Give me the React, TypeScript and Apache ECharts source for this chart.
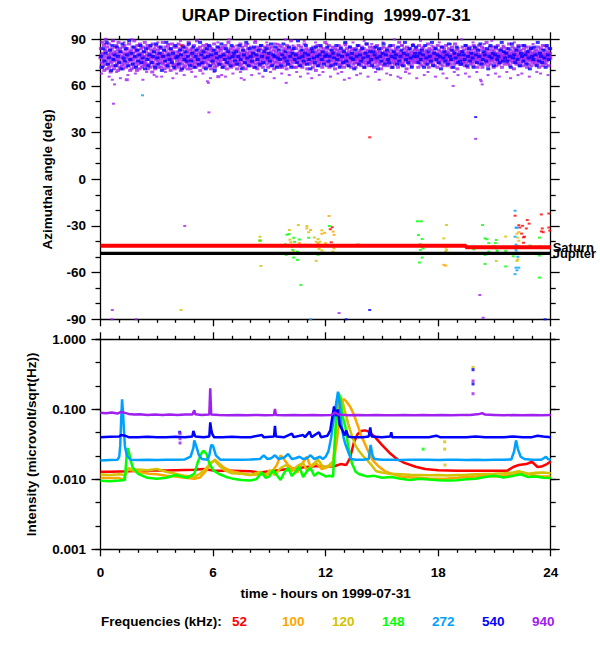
import { useEffect, useRef } from "react";
import * as echarts from "echarts";

const FREQS = ["52", "100", "120", "148", "272", "540", "940"];
const COLORS = ["#ff0000", "#ffa500", "#d2c200", "#00ff00", "#00a0ff", "#0000ff", "#a020f0"];
const X_TICKS = [0, 6, 12, 18, 24];
const TITLE = "URAP Direction Finding  1999-07-31";

// ---- top panel: azimuth (deg) ----
const SATURN = [[0, -42.7], [19.48, -42.7], [19.48, -43.7], [24, -43.7]];
const JUPITER = [[0, -47.6], [24, -47.6]];

// dense 940 kHz band, values at evenly spaced times across the day
const AZ940_BAND = [
  "78 84 72 80 75 88 81 73 77 86 70 79 83 74 90 76 82 71 85 78 74 80 87 72 79 83 76 69 81 75 84 78 73 89 80 77 71 82 76 85",
  "73 79 86 81 74 77 83 70 88 76 80 72 84 78 75 82 91 73 79 85 71 77 81 74 86 80 76 83 72 78 64 84 75 81 79 73 87 77 82 70",
  "80 76 83 71 78 85 74 81 77 72 89 79 75 84 82 73 78 70 86 80 76 83 74 79 71 87 81 77 84 75 72 80 78 85 73 82 76 79 88 74",
  "75 82 78 73 80 86 71 84 77 79 74 81 85 72 78 76 83 80 69 87 75 82 78 73 84 79 71 77 86 81 74 80 76 83 78 72 85 79 75 81",
  "84 77 72 79 81 75 88 74 80 78 83 71 76 85 79 73 82 77 80 74 86 72 78 84 75 81 79 70 83 77 76 87 73 80 82 78 74 85 71 79",
  "78 73 85 80 76 82 74 79 87 72 81 77 75 84 70 80 78 83 74 86 79 76 72 81 85 77 73 80 78 84 75 82 71 79 76 88 74 81 77 83",
  "71 80 77 84 74 79 82 76 73 86 78 81 75 83 72 80 77 89 74 79 84 76 81 73 78 85 70 82 77 75 80 83 74 79 86 72 78 81 76 84",
  "82 75 79 72 86 78 74 81 77 83 80 73 85 76 79 71 84 78 82 75 77 80 74 87 79 72 83 76 81 78 73 85 80 75 66 82 77 79 84 74",
  "76 83 80 74 78 85 72 81 79 77 84 73 80 86 75 78 82 71 79 76 83 88 74 80 77 81 75 84 72 79 78 82 76 73 85 80 74 83 77 79",
  "80 74 78 83 71 79 76 84 82 75 78 80 73 87 77 81 74 79 85 76 72 83 78 80 75 82 79 71 86 77 74 81 78 84 76 80 73 82 79 75",
  "77 85 73 80 78 82 75 79 84 72 81 76 88 74 79 83 77 80 71 85 78 75 82 79 73 84 76 80 78 86 74 81 77 72 83 79 75 80 85 78",
  "83 76 81 74 79 77 86 72 80 78 84 75 79 82 73 81 77 85 76 80 74 78 83 71 79 87 75 82 78 76 80 73 84 79 77 81 75 86 72 80",
  "74 81 78 85 72 80 77 83 75 79 82 76 73 84 78 80 71 86 79 75 81 77 84 74 78 82 76 80 89 73 79 83 77 75 81 78 85 72 80 76",
  "79 72 84 77 81 75 80 78 86 73 79 82 76 80 74 85 78 81 72 77 83 79 75 80 87 74 78 82 76 84 79 71 81 77 83 75 80 78 74 82",
  "81 78 75 83 79 76 72 85 80 77 84 74 81 78 70 82 76 79 86 73 80 77 83 75 78 81 74 85 79 76 82 72 80 78 84 77 75 81 79 88",
  "76 82 79 73 84 78 81 75 80 86 72 79 77 83 76 80 74 81 78 85 73 79 82 76 80 71 84 78 75 81 77 83 79 74 80 86 76 82 78 73",
  "85 77 80 74 79 82 76 78 83 72 80 75 87 79 77 81 74 84 78 76 80 73 82 79 75 85 78 81 72 77 83 80 76 79 74 84 78 81 77 75",
  "72 80 84 78 75 81 77 79 86 74 82 78 76 80 83 73 79 85 77 81 75 78 84 72 80 76 82 79 74 87 78 81 75 83 77 80 73 79 85 76",
  "79 83 76 81 74 78 85 80 77 72 84 79 75 82 78 80 76 86 73 81 77 79 83 75 78 82 74 80 71 84 79 76 81 78 85 73 80 77 82 75",
  "81 75 79 84 77 73 80 82 76 78 85 74 79 81 77 83 72 80 78 75 86 79 82 76 74 81 78 84 77 80 75 83 79 72 81 76 88 78 74 80",
  "77 82 74 80 86 78 75 81 79 73 84 77 80 76 82 78 71 85 79 75 83 77 81 74 80 78 84 76 79 82 73 80 77 86 75 81 78 79 83 76",
  "84 78 81 75 79 77 83 72 80 86 76 79 82 74 78 81 77 84 73 80 76 85 79 78 82 75 80 77 74 83 79 81 76 87 78 72 80 84 77 79",
  "75 80 78 83 76 81 74 79 85 77 82 73 80 78 84 76 79 81 72 86 78 75 83 80 77 79 74 82 78 85 76 81 73 80 79 77 84 75 82 78",
  "80 86 77 79 73 82 78 75 81 84 76 80 74 79 83 77 72 85 80 78 76 82 79 74 81 87 77 80 75 83 78 71 84 79 76 81 78 74 82 80",
  "78 74 82 80 77 85 75 79 83 76 81 73 78 86 79 75 80 84 77 72 82 79 76 81 78 85 74 80 77 83 79 75 81 78 73 86 80 77 84 76",
  "82 79 75 84 78 72 81 77 80 86 74 79 83 76 80 78 75 85 72 81 79 77 84 74 80 78 82 76 79 88 75 81 77 73 83 80 76 79 85 78",
  "74 81 78 76 83 80 77 85 72 79 82 75 80 78 84 73 81 77 79 86 76 80 74 83 78 81 75 79 77 84 72 80 78 82 76 85 79 74 81 77",
  "79 76 84 81 75 78 82 74 80 87 77 79 73 83 80 76 81 78 85 75 79 82 71 80 77 84 76 81 78 74 83 79 80 75 86 78 77 82 73 80",
  "83 78 75 80 79 86 73 81 77 84 76 80 78 82 75 79 85 72 81 77 80 74 83 79 76 82 78 85 73 80 77 81 75 84 79 78 76 82 80 74",
  "76 80 83 77 81 74 79 85 78 72 82 76 80 79 84 75 81 77 73 86 79 80 78 75 83 77 81 74 79 85 76 80 78 82 77 73 84 79 81 78",
];
const AZ940_EDGE = [
  "68 87 66 89 69 65 88 67 90 68 86 64 69 91 67 88 66 69 87 65 68 89 67 86 69 66 92 68 87 65 69 88 67 66 90 68 86 69 64 87",
  "67 89 68 66 88 69 65 87 68 90 67 86 69 66 89 68 65 88 67 69 87 66 91 68 69 86 65 88 67 68 89 66 87 69 64 88 68 67 90 66",
  "86 69 68 87 65 89 67 69 86 66 88 68 65 87 69 67 90 68 66 88 69 64 87 67 89 68 66 86 69 65 88 67 68 91 66 87 69 68 86 67",
];
const AZ540_BAND = [
  "79 72 84 76 81 88 74 78 83 70 86 77 80 73 85 79 75 82 71 87 78 76 84 80 73 89 77 81 74 85 79 72 83 76 80 86 75 78 82 71",
  "84 77 73 80 86 75 79 82 72 87 78 74 81 85 70 79 83 76 88 73 80 77 84 75 81 72 86 78 79 74 83 80 71 85 77 82 76 79 87 73",
  "76 81 85 72 79 83 77 74 88 80 75 82 78 71 84 79 86 73 80 76 83 70 81 78 85 74 79 87 72 80 77 84 75 82 78 73 86 79 81 76",
  "82 74 79 86 77 71 83 80 75 88 78 73 84 79 76 81 85 72 80 77 83 74 86 79 75 82 70 84 78 81 76 87 73 80 79 85 72 78 83 77",
  "73 80 87 78 82 76 74 85 79 72 81 84 77 80 75 89 78 73 83 79 76 81 86 74 80 77 71 84 82 78 75 85 79 73 80 86 77 82 74 79",
  "80 85 76 79 73 83 81 78 74 86 77 80 72 84 79 75 82 88 76 80 73 85 78 81 77 71 83 79 86 74 80 76 84 78 72 81 87 79 75 82",
  "77 73 82 80 85 78 71 84 79 76 81 87 74 80 83 77 75 86 79 72 82 78 80 74 85 76 79 83 73 81 88 77 80 75 84 78 72 86 79 81",
  "85 79 75 81 77 83 80 72 86 78 74 82 79 76 88 73 81 84 77 80 75 79 71 85 78 82 76 80 74 87 79 77 83 72 81 78 85 75 80 76",
  "74 82 80 77 86 73 79 84 76 81 78 72 85 80 75 83 79 87 74 77 82 80 76 84 71 79 86 78 81 73 80 85 77 79 75 83 88 76 82 78",
  "81 76 84 79 72 87 78 80 75 83 77 85 73 81 79 76 86 80 74 82 78 71 84 79 77 85 80 73 88 76 81 79 75 83 78 72 86 80 77 84",
];

// isolated azimuth points [hour, deg]
const AZ52_PTS = [[22.1, -23.4], [22.3, -29.5], [22.35, -31], [22.45, -34.9], [22.55, -40.8], [22.5, -29.9], [22.7, -31.6], [22.6, -36.9], [22.55, -37.3], [22.75, -26.2], [22.85, -28.5], [23.5, -22.6], [23.55, -31.6], [23.5, -33.5], [23.6, -34], [23.9, -22], [23.9, -31], [23.95, -33], [12.25, -32.1], [12.35, -30.8], [12.3, -40.5], [14.35, 27], [4.3, 86]];
const AZ100_PTS = [[8.52, -39.4], [11.0, -31.5], [11.2, -32.6], [11.8, -35], [11.95, -34.4], [11.8, -42.2], [11.9, -42.2], [12.18, -23.6], [12.4, -33.6], [12.45, -35.7], [12.4, -43.3], [12.45, -44.4], [18.4, -55.5], [18.3, -55], [22.3, -34], [10.6, -41], [11.6, -41]];
const AZ120_PTS = [[8.5, -36.9], [8.55, -42], [8.55, -55.7], [8.5, -39.4], [10.07, -32.6], [10.1, -38.8], [10.15, -40.5], [10.2, -43.3], [10.3, -46.5], [10.55, -29.4], [11.1, -34], [11.4, -37.4], [11.6, -38.4], [11.5, -40.1], [11.7, -40.1], [11.8, -32.8], [11.5, -43.3], [11.65, -44.8], [11.8, -45.8], [11.9, -47.1], [11.5, -52.4], [12.4, -46.5], [13.74, -41.8], [18.45, -29.4], [18.3, -38], [18.4, -42.5], [18.42, -44], [18.45, -45.5], [18.4, -46.5], [21.1, -52.5], [21.6, -36.8], [22.2, -35], [22.25, -37.5], [22.3, -39.5], [22.2, -52.5], [22.25, -51.5], [11.0, -30], [10.9, -42], [12.0, -41], [4.29, -84]];
const AZ148_PTS = [[8.5, -39.4], [9.94, -35.6], [10.05, -35.2], [9.86, -41.8], [10.3, -37.6], [10.35, -40.2], [10.25, -45.4], [10.5, -46.5], [9.9, -48.6], [10.3, -50.3], [10.5, -51.8], [10.6, -38.7], [10.65, -43.2], [11.1, -37.6], [11.6, -48.6], [12.2, -30], [10.68, -67.9], [16.9, -27], [17.1, -27], [16.95, -35.8], [17.15, -38.4], [17.05, -41.8], [17.1, -43.3], [17.2, -44.4], [17.05, -45.4], [17.15, -50.3], [17.0, -53.5], [20.37, -29.4], [20.5, -38], [20.6, -38.5], [20.7, -41], [21.05, -41], [21.1, -39], [21.0, -43], [21.1, -44.5], [21.15, -46], [19.9, -45], [20.7, -46.5], [20.5, -48.6], [20.5, -54.4], [21.6, -56], [21.6, -46], [23.4, -37.5], [23.45, -43.2], [23.4, -49], [23.4, -63.2], [22.9, -42.6], [22.0, -49.5], [22.05, -48]];
const AZ272_PTS = [[22.1, -20.2], [22.15, -31.1], [22.2, -31.1], [22.1, -36.9], [22.15, -42], [22.2, -44], [22.15, -45.5], [22.2, -47], [22.25, -49.8], [22.15, -56.8], [22.3, -56.8], [22.2, -58.5], [22.1, -61], [22.25, -43], [2.24, 54], [11.2, -90]];
const AZ540_PTS = [[20.0, 40], [14.35, -84], [13.1, -90], [23.7, -90]];
const AZ940_PTS = [[0.69, 48.6], [0.63, 64], [0.75, 61], [5.78, 43], [5.7, 63], [5.75, 62], [9.9, 62], [13.0, 64], [18.8, 60], [20.3, 63], [20.35, 61], [20.0, 26], [4.49, -30], [0.63, -84], [12.72, -86], [20.22, -74.4], [20.4, -89], [1.9, -90], [0.6, -90], [16, 65], [3, 66], [7.5, 65]];

// ---- bottom panel: intensity, flat [hour, value, hour, value, ...] ----
const I52 = [0, 0.0128, 0.5, 0.0128, 1.0, 0.0129, 1.5, 0.013, 2.0, 0.0133, 2.5, 0.0134, 3.0, 0.0134, 3.5, 0.0134, 4.0, 0.0135, 4.5, 0.0136, 5.0, 0.0137, 5.5, 0.014, 6.0, 0.0134, 6.5, 0.0133, 7.0, 0.0132, 7.5, 0.0131, 8.0, 0.013, 8.5, 0.0125, 9.0, 0.013, 9.5, 0.0135, 10.0, 0.014, 10.5, 0.0145, 11.0, 0.015, 11.5, 0.0155, 12.0, 0.015, 12.5, 0.0155, 12.8, 0.0165, 13.1, 0.016, 13.3, 0.02, 13.5, 0.033, 13.7, 0.044, 13.9, 0.049, 14.1, 0.05, 14.3, 0.048, 14.6, 0.041, 15.0, 0.031, 15.4, 0.024, 15.8, 0.0195, 16.2, 0.0172, 16.8, 0.0151, 17.3, 0.014, 18.0, 0.0135, 19, 0.0133, 20, 0.0132, 21, 0.0132, 21.7, 0.0133, 22.0, 0.015, 22.3, 0.016, 22.7, 0.0165, 23.0, 0.0178, 23.3, 0.015, 23.5, 0.0152, 23.8, 0.0165, 24, 0.018];
const I100 = [0, 0.0105, 0.5, 0.0104, 1.0, 0.0104, 1.2, 0.0098, 1.35, 0.012, 1.5, 0.0145, 1.8, 0.013, 2.2, 0.0125, 2.6, 0.012, 3.0, 0.0118, 3.5, 0.0112, 4.0, 0.011, 4.5, 0.0105, 5.0, 0.0102, 5.3, 0.0106, 5.6, 0.013, 5.9, 0.017, 6.1, 0.019, 6.3, 0.017, 6.6, 0.0145, 7.0, 0.013, 7.5, 0.0122, 8.0, 0.0115, 8.5, 0.0118, 9.0, 0.012, 9.2, 0.0135, 9.4, 0.016, 9.6, 0.022, 9.8, 0.019, 10.0, 0.016, 10.3, 0.014, 10.5, 0.0125, 10.7, 0.016, 11.0, 0.021, 11.2, 0.015, 11.5, 0.017, 11.8, 0.014, 12.1, 0.015, 12.4, 0.016, 12.6, 0.035, 12.8, 0.1, 12.95, 0.14, 13.1, 0.13, 13.3, 0.11, 13.5, 0.085, 13.7, 0.06, 13.9, 0.042, 14.1, 0.032, 14.3, 0.024, 14.5, 0.019, 14.8, 0.0155, 15.2, 0.0128, 15.6, 0.0118, 16, 0.011, 16.5, 0.0107, 17, 0.0105, 17.5, 0.0103, 18, 0.0102, 18.5, 0.0103, 19, 0.0105, 19.5, 0.0108, 20, 0.011, 20.5, 0.0112, 21, 0.011, 21.5, 0.0113, 22, 0.0115, 22.5, 0.0125, 23, 0.0115, 23.5, 0.011, 24, 0.011];
const I120 = [0, 0.0117, 0.5, 0.0115, 1.0, 0.0118, 1.3, 0.0115, 1.45, 0.014, 1.6, 0.0135, 2.0, 0.0138, 2.5, 0.0135, 3.0, 0.014, 3.5, 0.0128, 4.0, 0.012, 4.5, 0.0112, 5.0, 0.0108, 5.3, 0.012, 5.6, 0.014, 5.9, 0.0175, 6.1, 0.0185, 6.3, 0.016, 6.6, 0.0135, 7.0, 0.0122, 7.5, 0.012, 8.0, 0.0115, 8.5, 0.0128, 8.8, 0.011, 9.0, 0.0135, 9.3, 0.0115, 9.6, 0.0145, 9.9, 0.016, 10.2, 0.013, 10.5, 0.0155, 10.8, 0.017, 11.0, 0.0135, 11.3, 0.016, 11.6, 0.019, 11.9, 0.0145, 12.2, 0.016, 12.4, 0.018, 12.55, 0.05, 12.7, 0.12, 12.8, 0.15, 12.9, 0.13, 13.05, 0.09, 13.2, 0.063, 13.4, 0.042, 13.6, 0.03, 13.8, 0.025, 14.0, 0.0215, 14.2, 0.019, 14.4, 0.0165, 14.7, 0.013, 15.0, 0.0125, 15.4, 0.012, 16, 0.0118, 16.5, 0.0116, 17, 0.0115, 17.5, 0.0114, 18, 0.0115, 18.5, 0.0113, 19, 0.0115, 19.5, 0.0116, 20, 0.0118, 20.5, 0.0119, 21, 0.012, 21.5, 0.0122, 22, 0.0125, 22.3, 0.013, 22.8, 0.012, 23.2, 0.0124, 23.6, 0.0125, 24, 0.0122];
const I148 = [0, 0.0095, 0.5, 0.0094, 1.0, 0.0096, 1.3, 0.0098, 1.38, 0.02, 1.45, 0.028, 1.55, 0.022, 1.7, 0.015, 2.0, 0.012, 2.5, 0.0105, 3.0, 0.0102, 3.5, 0.0105, 4.0, 0.0115, 4.3, 0.011, 4.6, 0.0105, 5.0, 0.012, 5.2, 0.018, 5.4, 0.024, 5.5, 0.0256, 5.65, 0.023, 5.8, 0.017, 6.0, 0.0135, 6.3, 0.012, 6.7, 0.0108, 7.0, 0.0103, 7.5, 0.0098, 8.0, 0.0096, 8.3, 0.01, 8.6, 0.0125, 8.8, 0.0105, 9.0, 0.011, 9.2, 0.0135, 9.4, 0.0115, 9.6, 0.0098, 9.8, 0.0125, 10.0, 0.0145, 10.2, 0.0112, 10.4, 0.0128, 10.6, 0.015, 10.8, 0.0108, 11.0, 0.013, 11.2, 0.0145, 11.4, 0.0112, 11.6, 0.0125, 11.8, 0.0118, 12.0, 0.011, 12.2, 0.0112, 12.4, 0.011, 12.5, 0.04, 12.6, 0.12, 12.7, 0.17, 12.8, 0.14, 12.9, 0.08, 13.05, 0.0565, 13.2, 0.03, 13.4, 0.0169, 13.6, 0.0128, 13.8, 0.0118, 14.2, 0.011, 14.6, 0.0112, 15.0, 0.0105, 15.5, 0.0108, 16, 0.0102, 16.5, 0.0098, 17, 0.0102, 17.5, 0.0099, 18, 0.0097, 18.5, 0.0096, 19, 0.0097, 19.5, 0.01, 20, 0.0102, 20.5, 0.0108, 21, 0.0112, 21.5, 0.0106, 22, 0.0112, 22.4, 0.0118, 22.8, 0.0108, 23.2, 0.011, 23.6, 0.0105, 24, 0.0104];
const I272 = [0, 0.0185, 0.5, 0.0188, 0.9, 0.019, 1.0, 0.021, 1.05, 0.03, 1.1, 0.07, 1.15, 0.139, 1.2, 0.09, 1.25, 0.05, 1.3, 0.03, 1.4, 0.022, 1.6, 0.019, 2.0, 0.0188, 2.5, 0.019, 3.0, 0.0188, 3.5, 0.019, 4.0, 0.019, 4.5, 0.0192, 4.8, 0.021, 4.95, 0.028, 5.0, 0.036, 5.1, 0.03, 5.25, 0.022, 5.4, 0.0195, 5.7, 0.019, 5.8, 0.022, 5.9, 0.031, 6.0, 0.03, 6.15, 0.022, 6.4, 0.019, 7.0, 0.019, 7.5, 0.019, 8.0, 0.0192, 8.5, 0.0195, 8.7, 0.022, 8.9, 0.0195, 9.1, 0.02, 9.3, 0.022, 9.5, 0.0195, 9.8, 0.0205, 10.0, 0.023, 10.2, 0.0195, 10.4, 0.02, 10.6, 0.021, 10.8, 0.0195, 11.0, 0.02, 11.2, 0.022, 11.4, 0.0195, 11.7, 0.021, 11.85, 0.0195, 12.0, 0.021, 12.15, 0.025, 12.3, 0.04, 12.45, 0.08, 12.58, 0.13, 12.66, 0.179, 12.75, 0.12, 12.85, 0.06, 12.95, 0.04, 13.05, 0.032, 13.2, 0.025, 13.35, 0.0195, 13.6, 0.019, 14.0, 0.019, 14.3, 0.0195, 14.4, 0.031, 14.5, 0.022, 14.6, 0.0195, 15, 0.019, 15.5, 0.019, 16, 0.0188, 16.5, 0.019, 17, 0.019, 17.5, 0.019, 18, 0.0188, 18.5, 0.019, 19, 0.019, 19.5, 0.0188, 20, 0.019, 20.5, 0.0188, 21, 0.019, 21.5, 0.019, 21.9, 0.0192, 22.05, 0.025, 22.15, 0.036, 22.25, 0.027, 22.4, 0.021, 22.6, 0.0195, 23.0, 0.019, 23.5, 0.019, 23.75, 0.021, 23.85, 0.0195, 24, 0.019];
const I540 = [0, 0.040, 0.5, 0.0405, 1.0, 0.041, 1.1, 0.043, 1.3, 0.042, 1.5, 0.040, 2.0, 0.040, 2.5, 0.0405, 3.0, 0.040, 3.5, 0.040, 4.0, 0.0405, 4.5, 0.040, 4.9, 0.041, 4.95, 0.049, 5.05, 0.041, 5.5, 0.040, 5.8, 0.041, 5.85, 0.065, 5.9, 0.052, 5.95, 0.045, 6.05, 0.040, 6.5, 0.040, 7.0, 0.0405, 7.5, 0.040, 8.0, 0.040, 8.6, 0.043, 8.7, 0.040, 9.25, 0.041, 9.3, 0.058, 9.35, 0.041, 9.8, 0.040, 10.2, 0.045, 10.3, 0.040, 10.8, 0.043, 10.9, 0.040, 11.15, 0.048, 11.25, 0.040, 11.65, 0.047, 11.75, 0.040, 12.1, 0.042, 12.25, 0.05, 12.35, 0.075, 12.45, 0.11, 12.55, 0.08, 12.65, 0.1, 12.75, 0.06, 12.9, 0.05, 13.0, 0.042, 13.1, 0.05, 13.2, 0.041, 13.4, 0.040, 14.0, 0.040, 14.3, 0.041, 14.38, 0.055, 14.45, 0.041, 15.0, 0.040, 15.45, 0.041, 15.5, 0.047, 15.55, 0.040, 16, 0.040, 16.5, 0.040, 17, 0.040, 17.5, 0.040, 17.9, 0.042, 18.1, 0.040, 18.5, 0.040, 19, 0.040, 19.5, 0.040, 20, 0.041, 20.5, 0.040, 21, 0.040, 21.5, 0.040, 22, 0.041, 22.5, 0.040, 23, 0.040, 23.3, 0.042, 23.6, 0.041, 24, 0.040];
const I940 = [0, 0.089, 0.3, 0.088, 0.6, 0.09, 0.9, 0.087, 1.1, 0.092, 1.3, 0.089, 1.5, 0.086, 1.8, 0.084, 2.1, 0.085, 2.5, 0.083, 2.9, 0.084, 3.3, 0.083, 3.7, 0.084, 4.1, 0.083, 4.5, 0.084, 4.9, 0.084, 5.0, 0.097, 5.05, 0.085, 5.4, 0.083, 5.8, 0.084, 5.85, 0.2, 5.9, 0.084, 6.3, 0.083, 6.8, 0.082, 7.3, 0.083, 7.8, 0.082, 8.3, 0.083, 8.8, 0.082, 9.25, 0.083, 9.3, 0.101, 9.35, 0.083, 9.8, 0.082, 10.3, 0.083, 10.8, 0.082, 11.3, 0.083, 11.8, 0.082, 12.3, 0.083, 12.5, 0.09, 12.7, 0.084, 13.2, 0.082, 13.7, 0.083, 14.2, 0.082, 14.7, 0.083, 15.2, 0.082, 15.7, 0.082, 16.2, 0.083, 16.7, 0.082, 17.2, 0.083, 17.7, 0.082, 18.2, 0.083, 18.7, 0.082, 19.2, 0.083, 19.7, 0.083, 20.2, 0.086, 20.35, 0.088, 20.5, 0.084, 21.0, 0.083, 21.5, 0.082, 22.0, 0.083, 22.5, 0.082, 23.0, 0.083, 23.5, 0.082, 24, 0.083];
// isolated intensity dots [hour, value]
const DOTS120 = [[19.86, 0.398], [18.35, 0.0343], [18.35, 0.027], [18.36, 0.016]];
const DOTS148 = [[17.2, 0.027]];
const DOTS540 = [[4.22, 0.047], [19.86, 0.368], [19.86, 0.23]];
const DOTS940 = [[4.24, 0.045], [4.24, 0.038], [4.24, 0.033], [19.86, 0.254], [19.86, 0.167]];

const FONT = '"Liberation Sans", Arial, Helvetica, sans-serif';

function pairs(flat: number[]) {
  const out: number[][] = [];
  for (let i = 0; i + 1 < flat.length; i += 2) out.push([flat[i], flat[i + 1]]);
  return out;
}
function band(lines: string[], offset: number) {
  const vals = lines.join(" ").trim().split(/\s+/).map(Number);
  const n = vals.length;
  return vals.map((v, i) => [(24 * (i + offset)) / n, v]);
}

export default function App() {
  const ref = useRef<HTMLDivElement>(null);
  useEffect(() => {
    document.body.style.margin = "0";
    const chart = echarts.init(ref.current!, undefined, { renderer: "svg" });
    const black = { color: "#000", width: 1.3 };
    const lab = { color: "#000", fontFamily: FONT, fontSize: 13.5, fontWeight: "bold" as const };

    const xAxisBase = (grid: number, position: string, labels: boolean) => ({
      type: "value",
      gridIndex: grid,
      position,
      min: X_TICKS[0],
      max: X_TICKS[X_TICKS.length - 1],
      interval: 6,
      axisLine: { show: true, onZero: false, lineStyle: black },
      axisTick: { show: true, length: 7, lineStyle: black },
      minorTick: { show: true, splitNumber: 6, length: 3.5, lineStyle: black },
      splitLine: { show: false },
      axisLabel: labels ? { show: true, margin: 16, ...lab } : { show: false },
    });

    const topY = (position: string, labels: boolean) => ({
      type: "value",
      gridIndex: 0,
      position,
      min: -90,
      max: 90,
      interval: 30,
      axisLine: { show: true, onZero: false, lineStyle: black },
      axisTick: { show: true, length: 9, lineStyle: black },
      minorTick: { show: true, splitNumber: 3, length: 5, lineStyle: black },
      splitLine: { show: false },
      axisLabel: labels ? { show: true, margin: 14.5, ...lab } : { show: false },
      ...(labels
        ? { name: "Azimuthal angle (deg)", nameLocation: "middle", nameGap: 46, nameRotate: 90, nameTextStyle: lab }
        : {}),
    });

    const logY = (position: string, labels: boolean) => ({
      type: "log",
      logBase: 10,
      gridIndex: 1,
      position,
      min: 0.001,
      max: 1,
      axisLine: { show: true, onZero: false, lineStyle: black },
      axisTick: { show: true, length: 9, lineStyle: black },
      splitLine: { show: false },
      axisLabel: labels
        ? { show: true, margin: 14.5, formatter: (v: number) => Number(v).toFixed(3), ...lab }
        : { show: false },
      ...(labels
        ? { name: "Intensity (microvolt/sqrt(Hz))", nameLocation: "middle", nameGap: 62, nameRotate: 90, nameTextStyle: lab }
        : {}),
    });

    const minorLogY = (position: string) => ({
      type: "value",
      gridIndex: 1,
      position,
      min: -3,
      max: 0,
      interval: 1 / 3,
      axisLine: { show: false, onZero: false },
      axisTick: { show: true, length: 5, lineStyle: black },
      splitLine: { show: false },
      axisLabel: { show: false },
    });

    const scatterTop = (data: number[][], color: string, size: number[] = [3, 2]) => ({
      type: "scatter",
      xAxisIndex: 0,
      yAxisIndex: 0,
      data,
      symbol: "rect",
      symbolSize: size,
      itemStyle: { color },
      silent: true,
    });

    const lineBottom = (flat: number[], color: string) => ({
      type: "line",
      xAxisIndex: 2,
      yAxisIndex: 2,
      data: pairs(flat),
      showSymbol: false,
      symbol: "none",
      lineStyle: { color, width: 2.5 },
      silent: true,
    });
    const dotsBottom = (data: number[][], color: string) => ({
      type: "scatter",
      xAxisIndex: 2,
      yAxisIndex: 2,
      data,
      symbol: "rect",
      symbolSize: [3, 3],
      itemStyle: { color },
      silent: true,
    });

    const azPts = [AZ52_PTS, AZ100_PTS, AZ120_PTS, AZ148_PTS, AZ272_PTS, AZ540_PTS, AZ940_PTS];
    const intens = [I52, I100, I120, I148, I272, I540, I940];

    const series: any[] = [
      {
        type: "line",
        xAxisIndex: 0,
        yAxisIndex: 0,
        data: SATURN,
        symbol: "none",
        lineStyle: { color: "#ff0000", width: 4 },
        endLabel: { show: true, formatter: "Saturn", distance: 2, ...lab, fontSize: 13 },
        silent: true,
      },
      {
        type: "line",
        xAxisIndex: 0,
        yAxisIndex: 0,
        data: JUPITER,
        symbol: "none",
        lineStyle: { color: "#000", width: 3.3 },
        endLabel: { show: true, formatter: "Jupiter", distance: 2, ...lab, fontSize: 13 },
        silent: true,
      },
      scatterTop(band(AZ940_BAND, 0), COLORS[6], [4, 3]),
      scatterTop(band(AZ940_EDGE, 0.3), COLORS[6], [3, 2]),
      scatterTop(band(AZ540_BAND, 0.5), COLORS[5], [4, 3]),
      ...azPts.map((p, i) => scatterTop(p, COLORS[i])),
      ...intens.map((d, i) => lineBottom(d, COLORS[i])),
      dotsBottom(DOTS120, COLORS[2]),
      dotsBottom(DOTS148, COLORS[3]),
      dotsBottom(DOTS540, COLORS[5]),
      dotsBottom(DOTS940, COLORS[6]),
    ];

    const graphic: any[] = [
      {
        type: "text",
        x: 326,
        y: 15,
        style: { text: TITLE, fill: "#000", font: `bold 17px ${FONT}`, textAlign: "center", textVerticalAlign: "middle" },
      },
      {
        type: "text",
        x: 101,
        y: 621,
        style: { text: "Frequencies (kHz):", fill: "#000", font: `bold 13.5px ${FONT}`, textAlign: "left", textVerticalAlign: "middle" },
      },
      ...FREQS.map((f, i) => ({
        type: "text",
        x: 232 + 50 * i,
        y: 621,
        style: { text: f, fill: COLORS[i], font: `bold 13.5px ${FONT}`, textAlign: "left", textVerticalAlign: "middle" },
      })),
    ];

    chart.setOption({
      animation: false,
      backgroundColor: "#fff",
      grid: [
        { left: 100.5, top: 39.3, width: 450.2, height: 280 },
        { left: 100.5, top: 339.3, width: 450.2, height: 210 },
      ],
      xAxis: [
        xAxisBase(0, "bottom", false),
        xAxisBase(0, "top", false),
        {
          ...xAxisBase(1, "bottom", true),
          name: "time - hours on 1999-07-31",
          nameLocation: "middle",
          nameGap: 37,
          nameTextStyle: lab,
        },
        xAxisBase(1, "top", false),
      ],
      yAxis: [topY("left", true), topY("right", false), logY("left", true), logY("right", false), minorLogY("left"), minorLogY("right")],
      series,
      graphic,
    });
    return () => chart.dispose();
  }, []);
  return <div ref={ref} style={{ width: 600, height: 650 }} />;
}
